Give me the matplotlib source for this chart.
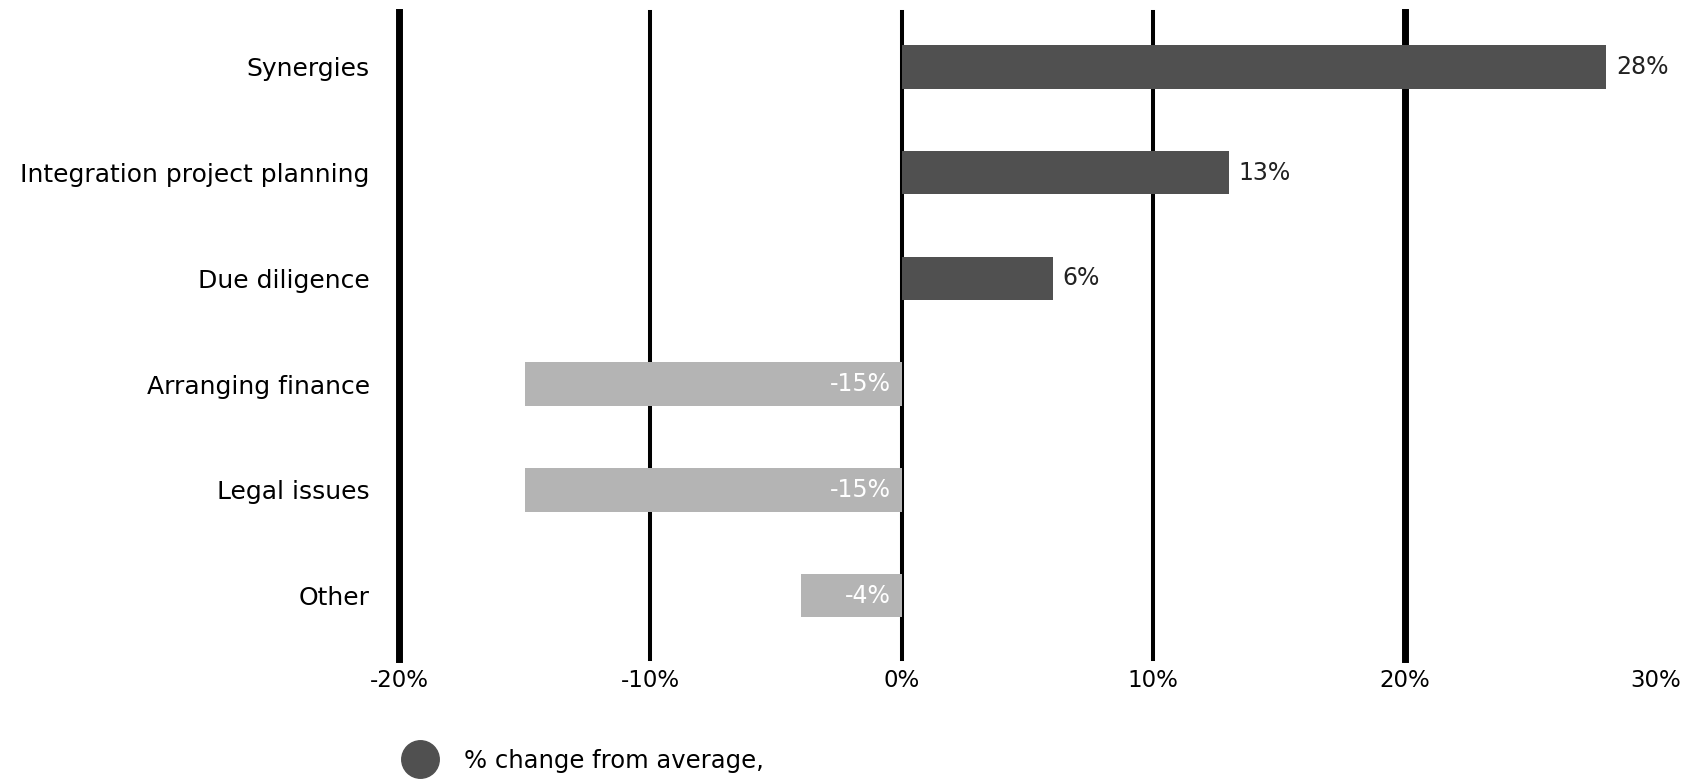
import matplotlib.pyplot as plt
from matplotlib.lines import Line2D

# data
categories = ['Synergies', 'Integration project planning', 'Due diligence',
              'Arranging finance', 'Legal issues', 'Other']
values = [28, 13, 6, -15, -15, -4]
tick_vals = [-20, -10, 0, 10, 20, 30]
legend_label = '% change from average,'

dark = '#505050'
light = '#b4b4b4'

plt.rcParams['font.family'] = ['DejaVu Sans']

fig = plt.figure(figsize=(16.95, 7.81), dpi=100)
ax = fig.add_axes([399 / 1695, 1 - 659 / 781, (1656 - 399) / 1695, (659 - 12) / 781])

# vertical grid lines (thick at -20 and 20)
for v in tick_vals[:-1]:
    lw = 5 if v in (-20, 20) else 2.9
    ax.axvline(v, color='black', linewidth=lw, zorder=1, clip_on=False)

ypos = list(range(len(categories)))
colors = [dark if v > 0 else light for v in values]
ax.barh(ypos, values, height=0.41, color=colors, zorder=2)

for y, v in zip(ypos, values):
    if v > 0:
        ax.text(v + 0.4, y, f'{v}%', va='center', ha='left', fontsize=17, color='#222222')
    else:
        ax.text(-0.45, y, f'{v}%', va='center', ha='right', fontsize=17, color='white')

ax.set_xlim(-20, 30)
ax.set_ylim(5.6, -0.52)
ax.set_yticks(ypos)
ax.set_yticklabels(categories, fontsize=18)
ax.set_xticks(tick_vals)
ax.set_xticklabels([f'{t}%' for t in tick_vals], fontsize=16.5)
ax.tick_params(axis='y', length=0, pad=21)
ax.tick_params(axis='x', length=0, pad=7)
for s in ax.spines.values():
    s.set_visible(False)

handle = Line2D([], [], marker='o', color=dark, linestyle='', markersize=27)
fig.legend([handle], [legend_label], loc='center left', frameon=False,
           bbox_to_anchor=(386 / 1695, 1 - 761 / 781), fontsize=17.5,
           handletextpad=0.8, borderaxespad=0)

fig.savefig('out.png', dpi=100)
